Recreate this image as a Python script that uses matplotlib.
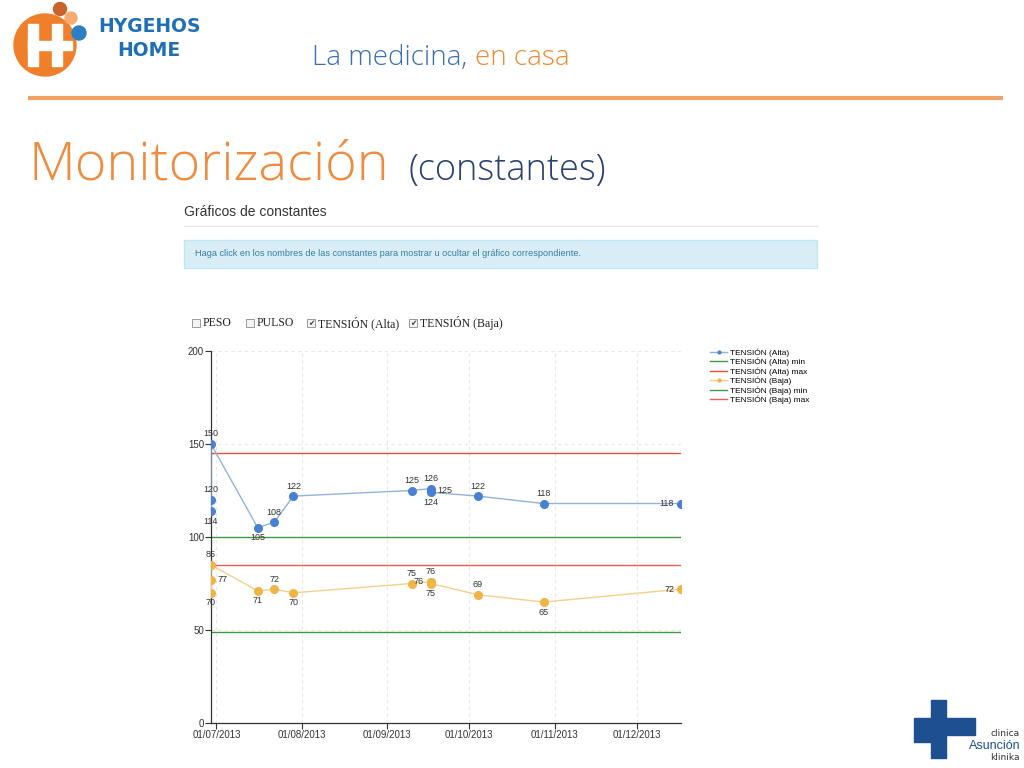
import matplotlib
matplotlib.use("Agg")
import matplotlib.pyplot as plt
import matplotlib.dates as mdates
import pandas as pd
from matplotlib.patches import Circle, Rectangle
from matplotlib.lines import Line2D

# values
dates = ["2013-06-29", "2013-06-29", "2013-06-29", "2013-07-16", "2013-07-22",
         "2013-07-29", "2013-09-10", "2013-09-17", "2013-09-17", "2013-09-17",
         "2013-10-04", "2013-10-28", "2013-12-17"]
alta_values = [120, 114, 150, 105, 108, 122, 125, 126, 125, 124, 122, 118, 118]
baja_values = [77, 70, 85, 71, 72, 70, 75, 76, 76, 75, 69, 65, 72]
alta_min, alta_max = 100, 145
baja_min, baja_max = 49, 85
tick_dates = ["2013-07-01", "2013-08-01", "2013-09-01", "2013-10-01", "2013-11-01", "2013-12-01"]
y_ticks = [0, 50, 100, 150, 200]
legend_labels = ["TENSIÓN (Alta)", "TENSIÓN (Alta) min", "TENSIÓN (Alta) max",
                 "TENSIÓN (Baja)", "TENSIÓN (Baja) min", "TENSIÓN (Baja) max"]
checkbox_labels = ["PESO", "PULSO", "TENSIÓN (Alta)", "TENSIÓN (Baja)"]
checkbox_checked = [False, False, True, True]

# where each data label sits relative to its point
alta_pos = ["above", "below", "above", "below", "above", "above", "above",
            "above", "right", "below", "above", "above", "left"]
baja_pos = ["right", "below", "above", "below", "above", "below", "above",
            "above", "left", "below", "above", "below", "left"]

BLUE = "#4a80d4"
BLUE_LINE = "#92b2de"
ORANGE = "#efb443"
ORANGE_LINE = "#f3d08c"
GREEN = "#3f9a3f"
RED_A = "#d9533c"
RED_B = "#f05a5a"

fig = plt.figure(figsize=(10.24, 7.68), dpi=100)

# background layer in pixel coordinates for the slide decoration
bg = fig.add_axes([0, 0, 1, 1])
bg.set_xlim(0, 1024)
bg.set_ylim(768, 0)
bg.axis("off")

# logo
bg.add_patch(Circle((45, 45), 31, color="#f07f2c"))
bg.add_patch(Rectangle((28, 24), 10, 42, color="white"))
bg.add_patch(Rectangle((52, 24), 10, 42, color="white"))
bg.add_patch(Rectangle((28, 41), 44, 9, color="white"))
bg.add_patch(Circle((60, 9), 6.5, color="#c9622c"))
bg.add_patch(Circle((71, 18), 6, color="#f6ab72"))
bg.add_patch(Circle((79, 33), 7, color="#2b7fc2"))
bg.text(149, 26, "HYGEHOS", color="#1f6fb5", fontsize=13.5, fontweight="heavy",
        ha="center", va="center")
bg.text(149, 51, "HOME", color="#1f6fb5", fontsize=13.5, fontweight="heavy",
        ha="center", va="center")
t = bg.text(312, 58, "La medicina, ", color="#3b6fae", fontsize=20,
            family="Open Sans", fontweight="light", ha="left", va="center")
bg.annotate("en casa", xy=(1, 0.5), xycoords=t, color="#f08a30", fontsize=20,
            family="Open Sans", fontweight="light", ha="left", va="center")
bg.plot([28, 1003], [98, 98], color="#f0a266", lw=3, solid_capstyle="butt")

bg.text(28, 166, "Monitorización", color="#f08a3c", fontsize=39,
        family="Open Sans", fontweight="light", ha="left", va="center")
bg.text(408, 170, "(constantes)", color="#2a4070", fontsize=26,
        family="Open Sans", fontweight="light", ha="left", va="center")

bg.text(184, 212, "Gráficos de constantes", color="#333333", fontsize=10,
        family="Liberation Sans", ha="left", va="center")
bg.plot([184, 817], [226, 226], color="#e6e6e6", lw=1)
bg.add_patch(Rectangle((184, 240), 633, 28, facecolor="#d9edf7",
                       edgecolor="#bce8f1", lw=1))
bg.text(195, 254, "Haga click en los nombres de las constantes para mostrar u ocultar el gráfico correspondiente.",
        color="#3a7ca0", fontsize=6.6, family="Liberation Sans", ha="left", va="center")

# checkbox row
cb_x = [192, 246, 307, 409]
for x, lab, chk in zip(cb_x, checkbox_labels, checkbox_checked):
    bg.add_patch(Rectangle((x, 319), 8, 8, facecolor="#f4f4f4", edgecolor="#9a9a9a", lw=0.7))
    if chk:
        bg.text(x + 4, 323.5, "✔", fontsize=5.5, color="#444444", ha="center", va="center",
                family="DejaVu Sans")
    bg.text(x + 11, 323.5, lab, fontsize=8.5, family="Liberation Serif", color="#222222",
            ha="left", va="center")

# bottom-right logo
NAVY = "#1d4f91"
bg.add_patch(Rectangle((931, 700), 15, 58, color=NAVY))
bg.add_patch(Rectangle((914, 718), 30, 24, color=NAVY))
bg.add_patch(Rectangle((931, 718), 44, 17, color=NAVY))
bg.text(1020, 734, "clinica", fontsize=6.5, color="#333333", ha="right", va="center")
bg.text(1021, 746, "Asunción", fontsize=9, color="#1d4f91", ha="right", va="center",
        family="Liberation Sans")
bg.text(1020, 757, "klinika", fontsize=6.5, color="#333333", ha="right", va="center")

# the chart itself
ax = fig.add_axes([211 / 1024, 1 - 723 / 768, 470 / 1024, 372 / 768])
x = pd.to_datetime(dates)
ax.set_xlim(x.min(), x.max())
ax.set_ylim(0, 200)

ax.plot(x, alta_values, color=BLUE_LINE, lw=1, zorder=3)
ax.plot(x, alta_values, "o", color=BLUE, ms=5.5, zorder=4)
ax.plot(x, baja_values, color=ORANGE_LINE, lw=1, zorder=3)
ax.plot(x, baja_values, "o", color=ORANGE, ms=5.5, zorder=4)
ax.axhline(alta_min, color=GREEN, lw=1, zorder=2)
ax.axhline(alta_max, color=RED_A, lw=1, zorder=2)
ax.axhline(baja_min, color=GREEN, lw=1, zorder=2)
ax.axhline(baja_max, color=RED_B, lw=1, zorder=2)

offsets = {"above": ((0, 4), "center", "bottom"),
           "below": ((0, -4), "center", "top"),
           "left": ((-5, 0), "right", "center"),
           "right": ((5, 0), "left", "center")}
for vals, pos in ((alta_values, alta_pos), (baja_values, baja_pos)):
    for d, v, p in zip(x, vals, pos):
        off, ha, va = offsets[p]
        ax.annotate(str(v), (d, v), xytext=off, textcoords="offset points",
                    ha=ha, va=va, fontsize=6.5, color="#333333", zorder=5,
                    family="Liberation Sans")

ax.set_xticks(pd.to_datetime(tick_dates))
ax.xaxis.set_major_formatter(mdates.DateFormatter("%d/%m/%Y"))
ax.set_yticks(y_ticks)
ax.grid(True, color="#e8e8e8", ls=(0, (3, 3)), lw=0.8)
ax.set_axisbelow(True)
for s in ("top", "right"):
    ax.spines[s].set_visible(False)
for s in ("left", "bottom"):
    ax.spines[s].set_color("#333333")
    ax.spines[s].set_linewidth(0.9)
ax.tick_params(labelsize=7, colors="#333333", length=4, width=0.8, pad=1)
for lab in ax.get_xticklabels() + ax.get_yticklabels():
    lab.set_family("Liberation Sans")
ax.patch.set_alpha(0)

handles = [
    Line2D([], [], color=BLUE_LINE, marker="o", ms=2, mfc=BLUE, mec=BLUE, lw=1),
    Line2D([], [], color=GREEN, lw=1),
    Line2D([], [], color=RED_A, lw=1),
    Line2D([], [], color=ORANGE_LINE, marker="o", ms=2, mfc=ORANGE, mec=ORANGE, lw=1),
    Line2D([], [], color=GREEN, lw=1),
    Line2D([], [], color=RED_B, lw=1),
]
leg = fig.legend(handles, legend_labels, loc="upper left",
                 bbox_to_anchor=(706 / 1024, 1 - 344 / 768), frameon=False,
                 handlelength=2.0, handletextpad=0.4, labelspacing=0.12,
                 borderpad=0, prop={"family": "Liberation Sans", "size": 6})

fig.savefig("out.png", dpi=100)
